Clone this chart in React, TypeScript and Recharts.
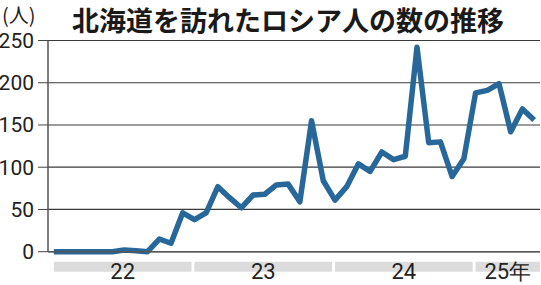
import React from 'react';
import { LineChart, Line, XAxis, YAxis, CartesianGrid, ReferenceArea } from 'recharts';

// monthly visitors, Jan 2022 .. Jun 2025
const values = [
  0, 0, 0, 0, 0, 0, 2, 1, 0, 15, 10, 46,
  38, 46, 77, 64, 52, 67, 68, 79, 80, 59, 155, 84,
  61, 77, 104, 95, 118, 109, 113, 242, 129, 130, 89, 110,
  188, 191, 199, 142, 169, 156,
];
const yearLabels = ['22', '23', '24', '25年'];
const monthsPerYear = [12, 12, 12, 6];
const yTicks = [0, 50, 100, 150, 200, 250];

const data = values.map((v, i) => ({ i, v }));
const lastX = values.length - 0.5;

const bands = yearLabels.map((label, k) => {
  const start = monthsPerYear.slice(0, k).reduce((a, b) => a + b, 0);
  const end = Math.min(start + monthsPerYear[k] - 0.25, lastX);
  return { label, start, end, mid: (start + end) / 2 };
});

const numFont = '"Liberation Sans Narrow", Roboto, sans-serif';

export default function App() {
  return (
    <div style={{ position: 'absolute', left: 0, top: 0, width: 541, height: 285, background: '#fff' }}>
      <LineChart width={541} height={285} data={data} margin={{ top: 40.5, right: 1, bottom: 0, left: 0 }}>
        <CartesianGrid vertical={false} stroke="#3a3a3a" strokeWidth={1.2} />
        {bands.map((b) => (
          <ReferenceArea key={b.label} x1={b.start} x2={b.end} y1={-11.8} y2={-23.6} fill="#dcdcdc" fillOpacity={1} stroke="none" ifOverflow="visible" />
        ))}
        <XAxis
          dataKey="i"
          type="number"
          domain={[-0.5, lastX]}
          ticks={data.map((d) => d.i)}
          interval={0}
          height={8}
          tick={false}
          tickSize={4}
          tickLine={{ stroke: '#444' }}
          axisLine={{ stroke: '#555', strokeWidth: 1.5 }}
          allowDataOverflow
        />
        <XAxis
          xAxisId="yr"
          dataKey="i"
          type="number"
          domain={[-0.5, lastX]}
          ticks={bands.map((b) => b.mid)}
          interval={0}
          height={25.3}
          tickSize={0}
          tickMargin={4}
          tickLine={false}
          axisLine={false}
          tickFormatter={(v: number) => bands.find((b) => b.mid === v)?.label ?? ''}
          tick={{ fontSize: 22, fill: '#222', fontFamily: numFont }}
          allowDataOverflow
        />
        <YAxis
          domain={[0, 250]}
          ticks={yTicks}
          width={48}
          tickSize={10}
          tickMargin={4}
          tickLine={{ stroke: '#444' }}
          axisLine={{ stroke: '#555', strokeWidth: 1.5 }}
          tick={{ fontSize: 21, fill: '#222', fontFamily: numFont }}
        />
        <Line
          type="linear"
          dataKey="v"
          stroke="#28679a"
          strokeWidth={5.5}
          strokeLinejoin="round"
          dot={false}
          isAnimationActive={false}
        />
      </LineChart>
      <div style={{ position: 'absolute', zIndex: 2, left: 2, top: 0, fontSize: 20, lineHeight: 'normal', color: '#222', fontFamily: '"Noto Sans CJK JP", sans-serif' }}>
        (人)
      </div>
      <div style={{ position: 'absolute', zIndex: 2, left: 72, top: 0, fontSize: 27, lineHeight: 'normal', fontWeight: 700, color: '#1a1a1a', fontFamily: '"Noto Sans CJK JP", sans-serif', whiteSpace: 'nowrap' }}>
        北海道を訪れたロシア人の数の推移
      </div>
    </div>
  );
}
